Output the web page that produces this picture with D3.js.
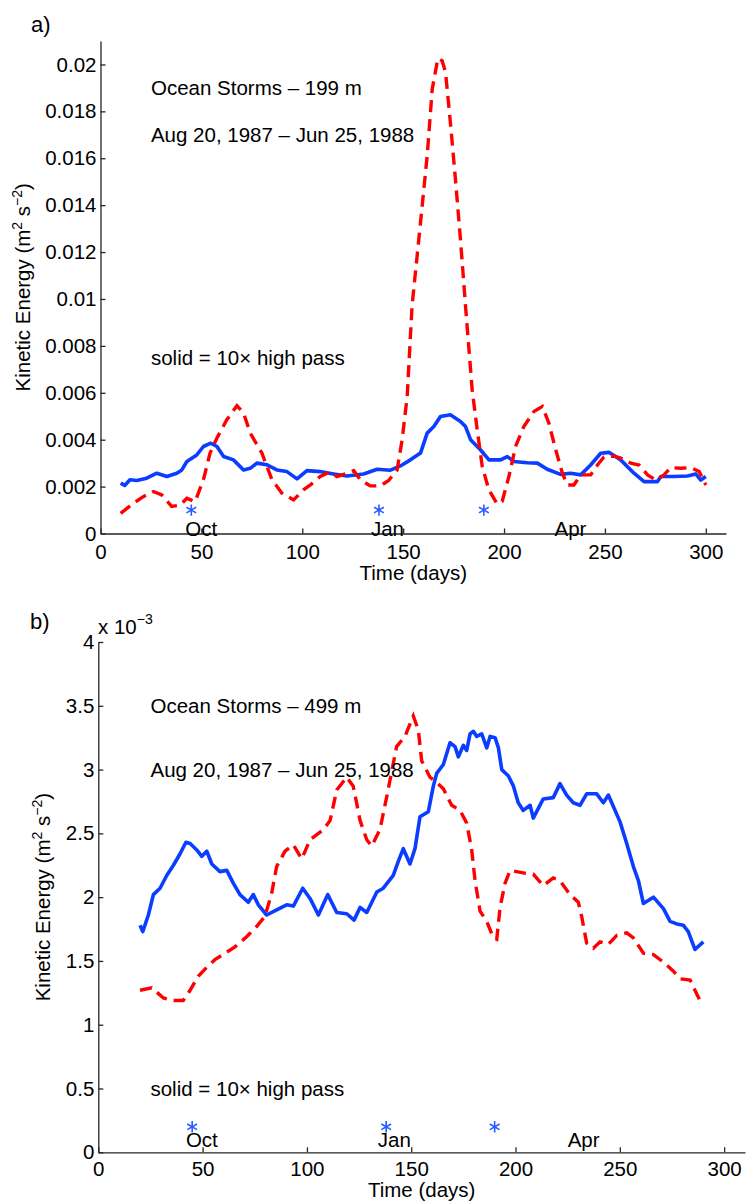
<!DOCTYPE html>
<html><head><meta charset="utf-8">
<script src="https://cdn.jsdelivr.net/npm/d3@7"></script>
<style>
body{margin:0;background:#fff}
svg{display:block}
text{font-family:"Liberation Sans",Arial,Helvetica,sans-serif;fill:#000}
</style>
</head><body>
<svg id="c" width="747" height="1203"></svg>
<script>
// ---------- DATA ----------
const xTicks = [0, 50, 100, 150, 200, 250, 300];
const yTicksA = [0, 0.002, 0.004, 0.006, 0.008, 0.01, 0.012, 0.014, 0.016, 0.018, 0.02];
const yTickLabelsA = ["0", "0.002", "0.004", "0.006", "0.008", "0.01", "0.012", "0.014", "0.016", "0.018", "0.02"];
const yTicksB = [0, 0.5, 1, 1.5, 2, 2.5, 3, 3.5, 4];
const yTickLabelsB = ["0", "0.5", "1", "1.5", "2", "2.5", "3", "3.5", "4"];

const monthNames = ["Oct", "Jan", "Apr"];
const monthDays = [42, 134, 225];
const starDays = [45, 138, 190];

// Panel a (199 m): solid = 10x high pass (blue), dashed = low pass (red)
const daysA_blue = [10, 12, 14.6, 18, 22.9, 27.9, 32.9, 37.8, 40.3, 42.8, 47.7, 51, 54.7, 57.7, 61, 65.9, 70.9, 74.2, 77.5, 82.5, 87.4, 92.4, 97.4, 102.3, 108.9, 115.5, 122.2, 130.4, 137.1, 143.7, 148.6, 153.6, 158.6, 161.9, 165.2, 168.5, 173.4, 178.4, 180.9, 183.4, 188.3, 192.5, 198.3, 201.6, 204.9, 211.5, 216.5, 221.4, 228, 233, 238, 242.9, 247.9, 252, 257.8, 264.4, 269.4, 276, 277.7, 284.3, 290.9, 295, 297.5, 300];
const keA_blue = [0.00215, 0.00205, 0.00229, 0.00226, 0.00236, 0.00257, 0.00243, 0.00257, 0.00271, 0.00307, 0.00335, 0.00371, 0.00385, 0.00371, 0.00328, 0.00314, 0.00271, 0.00278, 0.003, 0.00293, 0.00271, 0.00264, 0.00233, 0.00268, 0.00264, 0.00254, 0.00245, 0.00254, 0.00274, 0.0027, 0.00288, 0.00314, 0.00343, 0.00428, 0.00456, 0.00499, 0.00506, 0.00478, 0.00456, 0.004, 0.00357, 0.00314, 0.00314, 0.00328, 0.00307, 0.00302, 0.003, 0.00274, 0.00252, 0.00257, 0.0025, 0.00292, 0.00342, 0.00346, 0.00314, 0.00257, 0.00221, 0.00221, 0.00243, 0.00243, 0.00245, 0.00254, 0.00228, 0.00243];

const daysA_red = [10, 16.3, 21.2, 26.2, 30.4, 35.3, 39.5, 42.8, 46.9, 51, 54.3, 57.7, 62.6, 67.6, 70.9, 74.2, 80, 85, 89.9, 95.7, 100.6, 104, 108.9, 113.9, 117.2, 122.2, 125.5, 128.8, 133.7, 138.7, 142.8, 147, 149.5, 152, 154.4, 158.6, 161.9, 164.4, 167.2, 169.3, 171, 173.4, 175.9, 178.4, 180.9, 184.2, 186.7, 189.2, 192.5, 196.6, 199.1, 202.4, 205.7, 209.8, 214.8, 219, 222.2, 225.6, 228.9, 231.4, 234.6, 238, 242.9, 246.3, 249.5, 254.5, 257.8, 262.8, 266.9, 271.1, 275.2, 279.3, 282.6, 287.6, 292.5, 296.7, 300];
const keA_red = [0.00086, 0.00129, 0.00157, 0.00179, 0.00164, 0.00115, 0.00121, 0.0015, 0.00136, 0.00229, 0.00343, 0.00407, 0.00485, 0.00545, 0.00514, 0.00428, 0.00343, 0.00229, 0.00172, 0.00143, 0.00186, 0.00207, 0.00243, 0.00264, 0.00243, 0.00257, 0.00268, 0.00229, 0.00203, 0.00203, 0.00226, 0.00271, 0.004, 0.00585, 0.0097, 0.01326, 0.0161, 0.01895, 0.02026, 0.02016, 0.01967, 0.01753, 0.01511, 0.01254, 0.0097, 0.00613, 0.00442, 0.00285, 0.00186, 0.00126, 0.00138, 0.00243, 0.00371, 0.00456, 0.0052, 0.00542, 0.00471, 0.00357, 0.00257, 0.00207, 0.00207, 0.0025, 0.0025, 0.00292, 0.00326, 0.0033, 0.00322, 0.003, 0.00292, 0.0025, 0.00228, 0.0025, 0.00281, 0.00278, 0.00281, 0.00264, 0.00207];

// Panel b (499 m), values in units of 1e-3 m^2 s^-2
const daysB_blue = [20, 21.3, 24, 26.4, 29.6, 32.8, 36, 39.2, 42, 44, 47.2, 49.6, 52, 54.4, 58.3, 61.6, 64.7, 67.9, 71.9, 74.3, 76.7, 80.7, 85.5, 90.3, 93.5, 98, 101.5, 105.5, 110, 114.3, 119.1, 122.6, 125.5, 128.7, 133.5, 136.6, 141.4, 143.8, 146.2, 149.4, 151.8, 154.2, 158.2, 160.6, 162.2, 165.4, 168.6, 171, 172.6, 175, 176.6, 178.2, 179.8, 181.4, 183.8, 186.2, 187.8, 190.2, 191.8, 193.4, 196.6, 199, 201.3, 203.7, 207, 208.5, 213.3, 218.1, 221.3, 224.5, 227.7, 230.9, 234.1, 238.9, 242.1, 244.5, 246.9, 250.1, 253.3, 256.5, 258.9, 261.3, 266.1, 270.9, 274.1, 277.3, 280.4, 282.8, 286, 290];
const keB_blue = [1.78, 1.73, 1.86, 2.02, 2.07, 2.17, 2.25, 2.34, 2.43, 2.42, 2.37, 2.32, 2.36, 2.26, 2.2, 2.21, 2.11, 2.02, 1.96, 2.02, 1.94, 1.86, 1.9, 1.94, 1.93, 2.07, 1.99, 1.86, 2.02, 1.88, 1.87, 1.82, 1.92, 1.88, 2.04, 2.07, 2.17, 2.28, 2.38, 2.26, 2.38, 2.63, 2.67, 2.87, 2.97, 3.04, 3.21, 3.18, 3.10, 3.19, 3.15, 3.28, 3.30, 3.26, 3.28, 3.17, 3.26, 3.25, 3.17, 3.0, 2.95, 2.87, 2.74, 2.68, 2.72, 2.62, 2.77, 2.78, 2.89, 2.80, 2.74, 2.72, 2.81, 2.81, 2.74, 2.80, 2.71, 2.59, 2.42, 2.24, 2.13, 1.95, 2.0, 1.91, 1.81, 1.79, 1.78, 1.73, 1.59, 1.65];

const daysB_red = [20, 25.6, 31.2, 36, 40.7, 44, 47.9, 52, 55.9, 60.7, 65.5, 71.1, 75.9, 79.9, 83.1, 85.5, 89.5, 93.5, 97.5, 101.5, 107.9, 111.1, 114.3, 119.1, 122.2, 125.5, 128.7, 131.1, 135, 138.3, 143, 147, 151, 153.4, 155, 159, 162.2, 165.4, 169.4, 173.4, 176.6, 179, 180.6, 183, 186.2, 189.4, 191, 192.6, 195, 197.4, 203.7, 208.5, 213.3, 218.1, 221.3, 226.1, 230.1, 231.7, 234.1, 237.3, 240.5, 244.5, 248.5, 253.3, 256.5, 261.3, 266.1, 270.9, 275.7, 278.9, 283.7, 286, 288.4];
const keB_red = [1.27, 1.29, 1.21, 1.19, 1.19, 1.27, 1.38, 1.45, 1.51, 1.56, 1.61, 1.69, 1.77, 1.85, 2.03, 2.24, 2.36, 2.41, 2.30, 2.45, 2.53, 2.60, 2.84, 2.94, 2.87, 2.60, 2.45, 2.40, 2.53, 2.79, 3.18, 3.26, 3.42, 3.31, 3.07, 2.94, 2.90, 2.85, 2.72, 2.68, 2.58, 2.37, 2.13, 1.89, 1.81, 1.68, 1.67, 1.92, 2.11, 2.21, 2.19, 2.18, 2.09, 2.15, 2.13, 2.02, 1.96, 1.85, 1.64, 1.60, 1.65, 1.63, 1.70, 1.72, 1.68, 1.56, 1.55, 1.49, 1.42, 1.36, 1.35, 1.27, 1.19];

// ---------- DRAW ----------
const svg = d3.select("#c");
const FONT = 20.5;
const BLUE = "#0a3dff", RED = "#ff0000", STAR = "#2a5cff", AXIS = "#262626";

function zip(a, b) { return a.map((d, i) => [d, b[i]]); }

function panel(o) {
  const g = svg.append("g");
  const x = d3.scaleLinear().domain([0, 310]).range(o.xr);
  const y = d3.scaleLinear().domain(o.yd).range(o.yr);

  // axes
  const ax = g.append("g").attr("transform", `translate(0,${o.yr[0]})`)
    .call(d3.axisBottom(x).tickValues(xTicks).tickSize(-5).tickSizeOuter(0).tickPadding(o.xpad));
  const ay = g.append("g").attr("transform", `translate(${o.xr[0]},0)`)
    .call(d3.axisLeft(y).tickValues(o.yt).tickFormat((d, i) => o.ytl[i]).tickSize(-5).tickSizeOuter(0).tickPadding(4));
  [ax, ay].forEach(a => {
    a.attr("font-family", null).attr("font-size", FONT);
    a.selectAll("path,line").attr("stroke", AXIS).attr("stroke-width", 1.3);
    a.selectAll("text").attr("fill", "#000");
  });

  // lines
  const line = d3.line().x(d => x(d[0])).y(d => y(d[1]));
  g.append("path").datum(zip(o.bd, o.bv)).attr("d", line)
    .attr("fill", "none").attr("stroke", BLUE).attr("stroke-width", 3.6).attr("stroke-linejoin", "round");
  g.append("path").datum(zip(o.rd, o.rv)).attr("d", line)
    .attr("fill", "none").attr("stroke", RED).attr("stroke-width", 3.4).attr("stroke-dasharray", "12,7");

  // month stars and labels
  const sym = d3.symbol().type(d3.symbolAsterisk).size(90);
  g.selectAll(".star").data(starDays).join("path")
    .attr("transform", d => `translate(${x(d)},${y(o.starY)})`)
    .attr("d", sym).attr("fill", "none").attr("stroke", STAR).attr("stroke-width", 1.6);
  g.selectAll(".mon").data(monthNames).join("text")
    .attr("x", (d, i) => x(monthDays[i])).attr("y", y(o.monY)).attr("dy", "0.35em")
    .attr("font-size", FONT).text(d => d);

  // annotations
  o.notes.forEach(n => {
    g.append("text").attr("x", x(25)).attr("y", y(n[1])).attr("dy", "0.35em")
      .attr("font-size", FONT).text(n[0]);
  });

  // axis labels
  g.append("text").attr("x", (o.xr[0] + o.xr[1]) / 2).attr("y", o.xlabY)
    .attr("text-anchor", "middle").attr("font-size", FONT).text("Time (days)");
  const yl = g.append("text")
    .attr("transform", `translate(${o.ylabX},${(o.yr[0] + o.yr[1]) / 2}) rotate(-90)`)
    .attr("text-anchor", "middle").attr("font-size", FONT);
  yl.append("tspan").text("Kinetic Energy (m");
  yl.append("tspan").attr("dy", -8).attr("font-size", 14).text("2");
  yl.append("tspan").attr("dy", 8).text(" s");
  yl.append("tspan").attr("dy", -8).attr("font-size", 14).text("\u22122");
  yl.append("tspan").attr("dy", 8).text(")");

  // panel letter
  g.append("text").attr("x", o.letter[1]).attr("y", o.letter[2]).attr("font-size", 22).text(o.letter[0]);
  return g;
}

panel({
  xr: [100.5, 726], yr: [533.5, 41], yd: [0, 0.021],
  yt: yTicksA, ytl: yTickLabelsA, xpad: 11,
  bd: daysA_blue, bv: keA_blue, rd: daysA_red, rv: keA_red,
  starY: 0.001, monY: 0.0002,
  notes: [["Ocean Storms \u2013 199 m", 0.019], ["Aug 20, 1987 \u2013 Jun 25, 1988", 0.017], ["solid = 10\u00d7 high pass", 0.0075]],
  xlabY: 580, ylabX: 30, letter: ["a)", 31, 32]
});

const gb = panel({
  xr: [98.3, 745], yr: [1152.3, 642], yd: [0, 4],
  yt: yTicksB, ytl: yTickLabelsB, xpad: 9,
  bd: daysB_blue, bv: keB_blue, rd: daysB_red, rv: keB_red,
  starY: 0.2, monY: 0.1,
  notes: [["Ocean Storms \u2013 499 m", 3.5], ["Aug 20, 1987 \u2013 Jun 25, 1988", 3.0], ["solid = 10\u00d7 high pass", 0.5]],
  xlabY: 1197, ylabX: 50, letter: ["b)", 30, 629]
});

// exponent label for panel b
const ex = gb.append("text").attr("x", 98).attr("y", 634).attr("font-size", FONT);
ex.append("tspan").text("x 10");
ex.append("tspan").attr("dy", -10).attr("font-size", 14).text("\u22123");
</script>
</body></html>
